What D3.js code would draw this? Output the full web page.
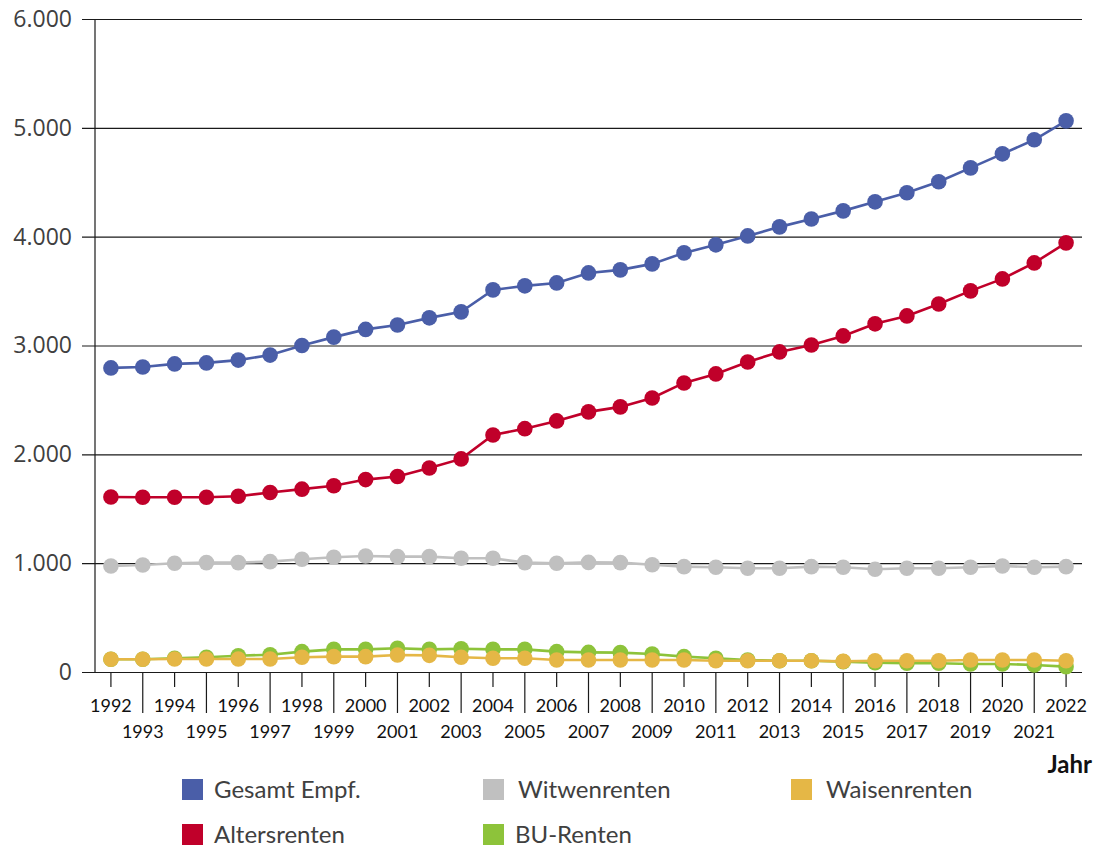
<!DOCTYPE html>
<html>
<head>
<meta charset="utf-8">
<script src="https://cdn.jsdelivr.net/npm/d3@7"></script>
<style>
  body { margin: 0; background: #fff; }
  svg { display: block; }
</style>
</head>
<body>
<svg width="1097" height="850"></svg>
<script>
// Data
let years = d3.range(1992, 2023);
let gesamt = [2794, 2803, 2831, 2840, 2866, 2912, 3000, 3077, 3148, 3189, 3254, 3309,
              3511, 3548, 3575, 3667, 3695, 3750, 3851, 3925, 4007, 4090, 4163, 4237,
              4320, 4403, 4504, 4632, 4761, 4890, 5064];
let alters = [1608, 1606, 1606, 1606, 1615, 1650, 1680, 1712, 1768, 1797, 1874, 1958,
              2178, 2236, 2307, 2390, 2436, 2518, 2656, 2739, 2849, 2941, 3005, 3088,
              3199, 3272, 3382, 3502, 3612, 3759, 3943];
let witwen = [974, 983, 999, 1005, 1005, 1014, 1036, 1054, 1066, 1060, 1060, 1045,
              1045, 1005, 999, 1007, 1005, 986, 968, 962, 953, 953, 968, 962,
              944, 953, 953, 962, 974, 962, 968];
let bu = [117, 117, 126, 135, 150, 159, 187, 208, 208, 218, 208, 214,
          208, 208, 187, 180, 178, 165, 141, 126, 110, 104, 104, 95,
          86, 80, 80, 74, 74, 64, 49];
let waisen = [117, 117, 120, 120, 120, 120, 135, 141, 141, 156, 153, 135,
              126, 126, 110, 110, 110, 110, 110, 104, 104, 104, 104, 98,
              104, 104, 104, 110, 110, 110, 104];
let yTicks = [0, 1000, 2000, 3000, 4000, 5000, 6000];
let legendNames = ['Gesamt Empf.', 'Witwenrenten', 'Waisenrenten', 'Altersrenten', 'BU-Renten'];

let series = [
    { name: 'Gesamt Empf.', values: gesamt, color: '#4a5ea8' },
    { name: 'Altersrenten', values: alters, color: '#c0002a' },
    { name: 'Witwenrenten', values: witwen, color: '#c0c0c0' },
    { name: 'BU-Renten', values: bu, color: '#8dc33a' },
    { name: 'Waisenrenten', values: waisen, color: '#e5b746' }
];

let svg = d3.select('svg');
let plot = { left: 95, right: 1082, top: 19, bottom: 672 };

let x = d3.scaleBand().domain(years).range([plot.left, plot.right]);
let y = d3.scaleLinear().domain([0, 6000]).range([plot.bottom, plot.top]);
let cx = d => x(d) + x.bandwidth() / 2;

// Y axis with gridlines
let yAxis = svg.append('g')
    .attr('transform', 'translate(82,0)')
    .call(d3.axisLeft(y).tickValues(yTicks).tickSize(-(plot.right - 82)).tickPadding(10)
        .tickFormat(d => d3.format(',')(d).replace(',', '.')));
yAxis.select('.domain').remove();
yAxis.selectAll('.tick line').attr('stroke', '#1a1a1a').attr('stroke-width', 1.2);
yAxis.selectAll('.tick text')
    .attr('font-family', 'Open Sans, sans-serif')
    .attr('font-size', '23px')
    .attr('fill', '#404040');

// vertical axis line
svg.append('line')
    .attr('x1', plot.left).attr('x2', plot.left)
    .attr('y1', plot.top).attr('y2', plot.bottom)
    .attr('stroke', '#1a1a1a').attr('stroke-width', 1.2);

// X axis: even years up top with short ticks, odd years below with long ticks
let xAxis = svg.append('g')
    .attr('transform', 'translate(0,' + plot.bottom + ')')
    .call(d3.axisBottom(x).tickSize(0));
xAxis.select('.domain').remove();
xAxis.selectAll('.tick line')
    .attr('stroke', '#1a1a1a').attr('stroke-width', 1.2)
    .attr('y2', d => d % 2 === 0 ? 15 : 41);
xAxis.selectAll('.tick text')
    .attr('font-family', 'Lato, sans-serif')
    .attr('font-size', '18px')
    .attr('fill', '#111')
    .attr('dy', null)
    .attr('y', d => d % 2 === 0 ? 40 : 66);

// Lines and points
let line = d3.line().x((d, i) => cx(years[i])).y(d => y(d));
series.forEach(s => {
    let g = svg.append('g');
    g.append('path')
        .datum(s.values)
        .attr('d', line)
        .attr('fill', 'none')
        .attr('stroke', s.color)
        .attr('stroke-width', 2.6);
    g.selectAll('circle')
        .data(s.values)
        .enter().append('circle')
        .attr('cx', (d, i) => cx(years[i]))
        .attr('cy', d => y(d))
        .attr('r', 7.8)
        .attr('fill', s.color);
});

// Axis title
svg.append('text')
    .attr('x', 1092).attr('y', 773)
    .attr('text-anchor', 'end')
    .attr('font-family', 'Lato, sans-serif')
    .attr('font-weight', 'bold')
    .attr('font-size', '24px')
    .attr('fill', '#111')
    .text('Jahr');

// Legend: three columns, two rows
let colX = [182, 483, 791];
let rowY = [779, 824];
let textDx = [32, 35, 35, 32, 32];
let legend = svg.selectAll('.legend')
    .data(legendNames)
    .enter().append('g')
    .attr('class', 'legend')
    .attr('transform', (d, i) => 'translate(' + colX[i % 3] + ',' + rowY[Math.floor(i / 3)] + ')');
legend.append('rect')
    .attr('width', 21).attr('height', 21)
    .attr('fill', d => series.find(s => s.name === d).color);
legend.append('text')
    .attr('x', (d, i) => textDx[i]).attr('y', 19)
    .attr('font-family', 'Lato, sans-serif')
    .attr('font-size', '24px')
    .attr('fill', '#404040')
    .text(d => d);
</script>
</body>
</html>
